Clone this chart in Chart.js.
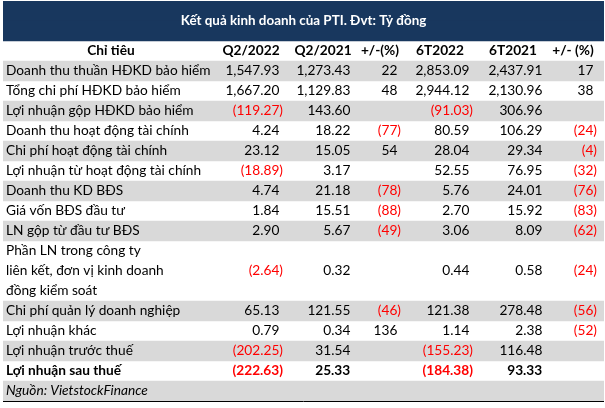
<!DOCTYPE html>
<html>
<head>
<meta charset="utf-8">
<script src="https://cdn.jsdelivr.net/npm/chart.js@4.4.0/dist/chart.umd.min.js"></script>
<style>
  html, body { margin: 0; padding: 0; background: #fff; }
  canvas { display: block; }
</style>
</head>
<body>
<canvas id="table-canvas" width="605" height="408"></canvas>
<script>
// chart texts
var title = "Kết quả kinh doanh của PTI. Đvt: Tỷ đồng";
var headers = ["Chỉ tiêu", "Q2/2022", "Q2/2021", "+/-(%)", "6T2022", "6T2021", "+/- (%)"];
var source = "Nguồn: VietstockFinance";

// row labels (one entry per line of text)
var categories = [
	["Doanh thu thuần HĐKD bảo hiểm"],
	["Tổng chi phí HĐKD bảo hiểm"],
	["Lợi nhuận gộp HĐKD bảo hiểm"],
	["Doanh thu hoạt động tài chính"],
	["Chi phí hoạt động tài chính"],
	["Lợi nhuận từ hoạt động tài chính"],
	["Doanh thu KD BĐS"],
	["Giá vốn BĐS đầu tư"],
	["LN gộp từ đầu tư BĐS"],
	["Phần LN trong công ty", "liên kết, đơn vị kinh doanh", "đồng kiểm soát"],
	["Chi phí quản lý doanh nghiệp"],
	["Lợi nhuận khác"],
	["Lợi nhuận trước thuế"],
	["Lợi nhuận sau thuế"]
];

// series values (null = empty cell)
var q2_2022 = [1547.93, 1667.20, -119.27, 4.24, 23.12, -18.89, 4.74, 1.84, 2.90, -2.64, 65.13, 0.79, -202.25, -222.63];
var q2_2021 = [1273.43, 1129.83, 143.60, 18.22, 15.05, 3.17, 21.18, 15.51, 5.67, 0.32, 121.55, 0.34, 31.54, 25.33];
var chgQ = [22, 48, null, -77, 54, null, -78, -88, -49, null, -46, 136, null, null];
var h1_2022 = [2853.09, 2944.12, -91.03, 80.59, 28.04, 52.55, 5.76, 2.70, 3.06, 0.44, 121.38, 1.14, -155.23, -184.38];
var h1_2021 = [2437.91, 2130.96, 306.96, 106.29, 29.34, 76.95, 24.01, 15.92, 8.09, 0.58, 278.48, 2.38, 116.48, 93.33];
var chgH = [17, 38, null, -24, -4, -32, -76, -83, -62, -24, -56, -52, null, null];

var boldRow = "Lợi nhuận sau thuế";

// layout / styles
var NAVY = "#18375e";
var GRAY = "#d9d9d9";
var RED = "#ff0000";
var FAMILY = "Lato, 'Open Sans', sans-serif";
var SIZE = 13.7;
var TITLE_SIZE = 13.4;
var WIDTH = 601; // x scale units = table width

var columns = [
	{ values: q2_2022, dec: 2, anchor: 280 },
	{ values: q2_2021, dec: 2, anchor: 351 },
	{ values: chgQ, dec: 0, anchor: 398 },
	{ values: h1_2022, dec: 2, anchor: 470 },
	{ values: h1_2021, dec: 2, anchor: 543 },
	{ values: chgH, dec: 0, anchor: 594 }
];
var headerCenters = [108, 248, 320, 377, 437, 510, 570];
var labelLeft = 3;

// build the slot list: 2 slots title, 1 slot header, then one slot per text line
var slots = ["title", "title", "header"];
var slotRow = [-1, -1, -1];
var rowStart = [];
categories.forEach(function(lines, r) {
	rowStart.push(slots.length);
	lines.forEach(function(line) {
		slots.push(line);
		slotRow.push(r);
	});
});
var sourceSlot = slots.length;
slots.push(source);
slotRow.push(categories.length);

// full width bars: navy title band, grey stripes on every other row
var bandData = [];
var bandColors = [];
slots.forEach(function(s, i) {
	var r = slotRow[i];
	if (i < 2) {
		bandData.push(WIDTH);
		bandColors.push(NAVY);
	} else if (r >= 0 && r % 2 === 0) {
		bandData.push(WIDTH);
		bandColors.push(GRAY);
	} else {
		bandData.push(null);
		bandColors.push("rgba(0,0,0,0)");
	}
});

function font(bold, italic, size) {
	return (italic ? "italic " : "") + (bold ? "bold " : "") + (size || SIZE) + "px " + FAMILY;
}

function fmt(v, dec) {
	var s = Math.abs(v).toLocaleString("en-US", { minimumFractionDigits: dec, maximumFractionDigits: dec });
	return v < 0 ? "(" + s + ")" : s;
}

// draws title, headers and cell texts at scale positions
var cellText = {
	id: "cellText",
	afterDraw: function(chart) {
		var ctx = chart.ctx;
		var xs = chart.scales.x;
		var ys = chart.scales.y;
		ctx.save();
		ctx.textBaseline = "middle";

		// title
		ctx.font = font(true, false, TITLE_SIZE);
		ctx.fillStyle = "#ffffff";
		ctx.textAlign = "center";
		ctx.fillText(title, xs.getPixelForValue(WIDTH / 2), (ys.getPixelForValue(0) + ys.getPixelForValue(1)) / 2);

		// header
		ctx.font = font(true, false);
		ctx.fillStyle = "#000000";
		headers.forEach(function(h, i) {
			ctx.fillText(h, xs.getPixelForValue(headerCenters[i]), ys.getPixelForValue(2));
		});

		// rows
		categories.forEach(function(lines, r) {
			var bold = lines[0] === boldRow;
			var start = rowStart[r];
			var yMid = (ys.getPixelForValue(start) + ys.getPixelForValue(start + lines.length - 1)) / 2;

			ctx.font = font(bold, false);
			ctx.fillStyle = "#000000";
			ctx.textAlign = "left";
			lines.forEach(function(line, k) {
				ctx.fillText(line, xs.getPixelForValue(labelLeft), ys.getPixelForValue(start + k));
			});

			ctx.textAlign = "right";
			var paren = ctx.measureText(")").width;
			columns.forEach(function(col) {
				var v = col.values[r];
				if (v === null || v === undefined) return;
				var x = xs.getPixelForValue(col.anchor);
				if (v < 0) {
					ctx.fillStyle = RED;
					ctx.fillText(fmt(v, col.dec), x, yMid);
				} else {
					ctx.fillStyle = "#000000";
					ctx.fillText(fmt(v, col.dec), x - paren, yMid);
				}
			});
		});

		// source
		ctx.font = font(false, true);
		ctx.fillStyle = "#000000";
		ctx.textAlign = "left";
		ctx.fillText(source, xs.getPixelForValue(labelLeft), ys.getPixelForValue(sourceSlot));

		ctx.restore();
	}
};

var chart = new Chart(document.getElementById("table-canvas"), {
	type: "bar",
	data: {
		labels: slots,
		datasets: [{
			data: bandData,
			backgroundColor: bandColors,
			borderWidth: 0,
			barPercentage: 1,
			categoryPercentage: 1
		}]
	},
	options: {
		indexAxis: "y",
		responsive: false,
		animation: false,
		events: [],
		layout: { padding: { left: 3, right: 1, top: 1, bottom: 7 } },
		plugins: {
			legend: { display: false },
			tooltip: { enabled: false },
			title: { display: false }
		},
		scales: {
			x: { type: "linear", min: 0, max: WIDTH, display: false },
			y: {
				type: "category",
				z: 1,
				ticks: { display: false },
				border: { display: false },
				grid: {
					offset: true,
					drawTicks: false,
					lineWidth: 1,
					// black rule under the header and under the table
					color: function(c) {
						if (c.index === 3 || c.index === undefined) return "#000000";
						return "rgba(0,0,0,0)";
					}
				}
			}
		}
	},
	plugins: [cellText]
});
</script>
</body>
</html>
